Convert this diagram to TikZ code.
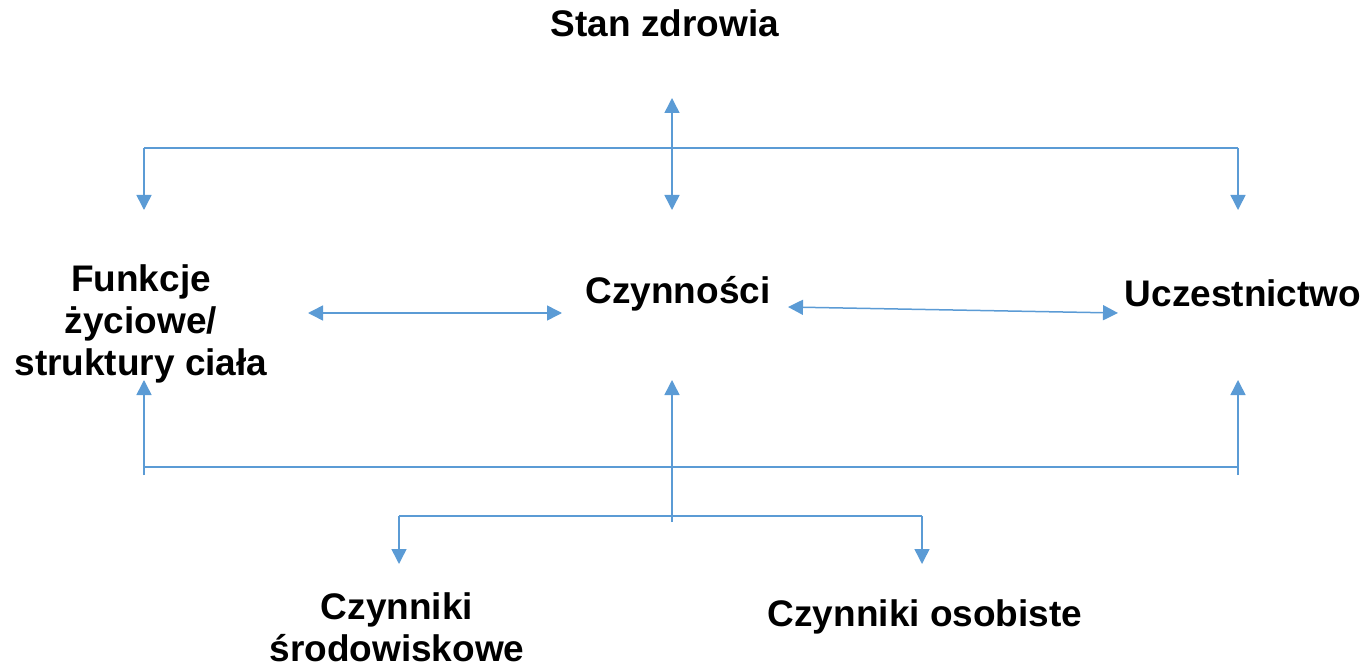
\documentclass[tikz,border=0pt]{standalone}
\usepackage{fontspec}
\setmainfont{Liberation Sans}
\usetikzlibrary{arrows.meta}
\definecolor{lineblue}{HTML}{5B9BD5}
\tikzset{
  lbl/.style={font=\bfseries\fontsize{37}{42}\selectfont, inner sep=0pt, anchor=base, align=center},
  conn/.style={draw=lineblue, line width=1.5pt},
  arr/.style={conn, -{Triangle[width=15pt,length=15pt]}},
  darr/.style={conn, {Triangle[width=15pt,length=15pt]}-{Triangle[width=15pt,length=15pt]}},
}
\begin{document}
\begin{tikzpicture}[x=1pt,y=-1pt]
\useasboundingbox (0,0) rectangle (1371,671);
% labels
\node[lbl] (stan) at (665,37) {Stan zdrowia};
\node[lbl, anchor=north] (funk) at (141,264) {Funkcje\\życiowe/\\struktury ciała};
\node[lbl] (czyn) at (678,303) {Czynności};
\node[lbl] (ucz) at (1243,306) {Uczestnictwo};
\node[lbl, anchor=north] (srod) at (397,592) {Czynniki\\środowiskowe};
\node[lbl] (osob) at (925,626) {Czynniki osobiste};
% coordinates
\coordinate (tl) at (144,148);
\coordinate (tr) at (1238,148);
\coordinate (tlA) at (144,210);
\coordinate (trA) at (1238,210);
\coordinate (ctop) at (672,98);
\coordinate (cbot) at (672,210);
\coordinate (hl1) at (308,313);
\coordinate (hl2) at (562,313);
\coordinate (hr1) at (788,307);
\coordinate (hr2) at (1118,313);
\coordinate (bl) at (144,467);
\coordinate (br) at (1238,467);
\coordinate (blx) at (144,475);
\coordinate (brx) at (1238,475);
\coordinate (blA) at (144,380);
\coordinate (brA) at (1238,380);
\coordinate (cA) at (672,380);
\coordinate (cb) at (672,522);
\coordinate (sl) at (399,516);
\coordinate (sr) at (922,516);
\coordinate (slA) at (399,564);
\coordinate (srA) at (922,564);
% top
\draw[conn] (tl) -- (tr);
\draw[arr] (tl) -- (tlA);
\draw[arr] (tr) -- (trA);
\draw[darr] (ctop) -- (cbot);
% middle
\draw[darr] (hl1) -- (hl2);
\draw[darr] (hr1) -- (hr2);
% bottom
\draw[conn] (bl) -- (br);
\draw[arr] (blx) -- (blA);
\draw[arr] (brx) -- (brA);
\draw[arr] (cb) -- (cA);
\draw[conn] (sl) -- (sr);
\draw[arr] (sl) -- (slA);
\draw[arr] (sr) -- (srA);
\end{tikzpicture}
\end{document}
